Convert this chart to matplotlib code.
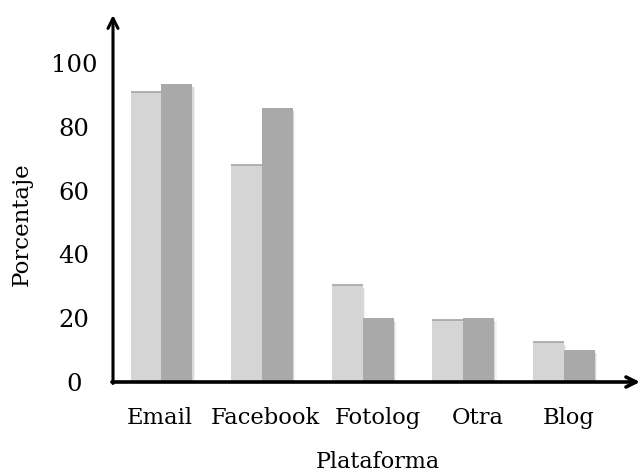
import matplotlib
matplotlib.use("Agg")
import matplotlib.pyplot as plt
import numpy as np

categories = ["Email", "Facebook", "Fotolog", "Otra", "Blog"]
serie_a = [91, 68, 30.5, 19.5, 12.5]
serie_b = [93.5, 86, 20, 20, 10]
yticks = [0, 20, 40, 60, 80, 100]

plt.rcParams['font.family'] = ['DejaVu Serif']

W, H = 640, 475
fig = plt.figure(figsize=(6.4, 4.75), dpi=100)
x0, y0, x1, y1 = 113, 382, 640, 15
ax = fig.add_axes([x0 / W, (H - y0) / H, (x1 - x0) / W, (y0 - y1) / H])

x = np.arange(len(categories))
w = 0.308
light, dark = "#d5d5d5", "#a9a9a9"
# soft shadows
for off, a in [(0.012, 0.10), (0.024, 0.05)]:
    ax.bar(x - w / 2 + off, serie_a, w, bottom=-1.0, color="black", alpha=a, zorder=1, linewidth=0)
    ax.bar(x + w / 2 + off, serie_b, w, bottom=-1.0, color="black", alpha=a, zorder=1, linewidth=0)
ax.bar(x - w / 2, serie_a, w, color=light, zorder=2, linewidth=0)
ax.bar(x + w / 2, serie_b, w, color=dark, zorder=2, linewidth=0)
# thin darker top edge
ax.hlines(serie_a, x - w, x, color="#a5a5a5", linewidth=1.2, zorder=3)

ax.set_xlim(-0.482, 4.757)
ax.set_ylim(0, 115)
for s in ax.spines.values():
    s.set_visible(False)
ax.set_yticks(yticks)
label_shift = np.array([-0.015, 0.03, 0.15, 0.14, 0.05])
ax.set_xticks(x + label_shift)
ax.set_xticklabels(categories)
ax.tick_params(axis='both', length=0)
ax.tick_params(axis='y', pad=28, labelsize=17.5)
ax.tick_params(axis='x', pad=18, labelsize=16.3)
for t in ax.get_yticklabels():
    t.set_horizontalalignment('center')

ax.annotate("", xy=(1.0, 0), xytext=(-0.002, 0), xycoords='axes fraction',
            arrowprops=dict(arrowstyle="->", lw=2.6, color="black", mutation_scale=18,
                            shrinkA=0, shrinkB=0), annotation_clip=False)
ax.annotate("", xy=(0, 1.0), xytext=(0, -0.004), xycoords='axes fraction',
            arrowprops=dict(arrowstyle="->", lw=2.2, color="black", mutation_scale=18,
                            shrinkA=0, shrinkB=0), annotation_clip=False)

fig.text(378 / W, 1 - 462 / H, "Plataforma", ha='center', va='center', fontsize=16)
fig.text(22 / W, 1 - 224 / H, "Porcentaje", ha='center', va='center', rotation=90, fontsize=16.5)

fig.savefig("out.png", dpi=100)
